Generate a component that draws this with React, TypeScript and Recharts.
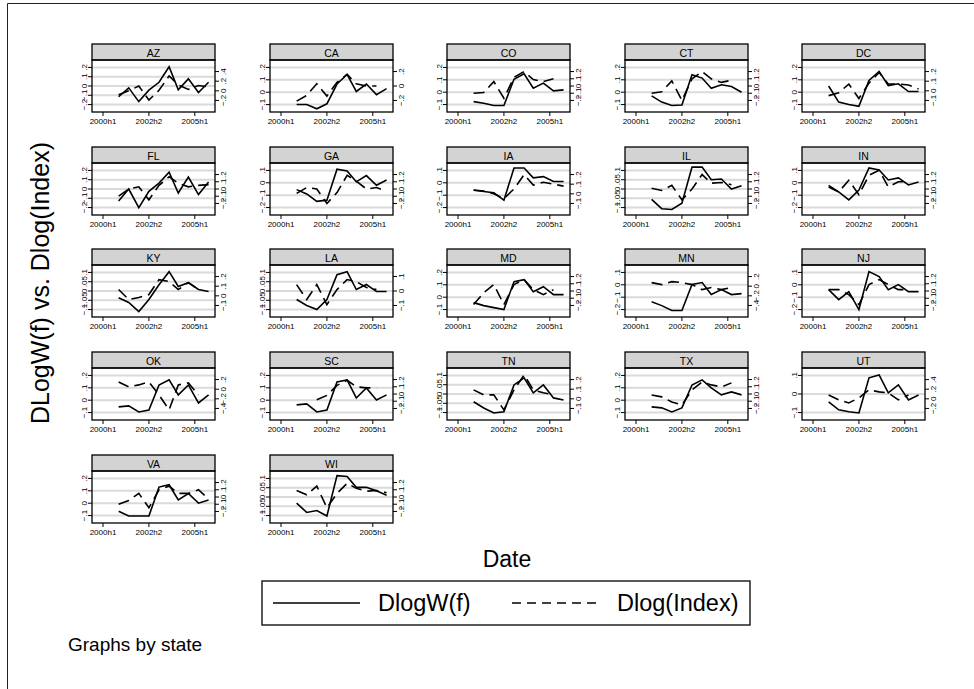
import React from "react";
import { LineChart, Line, XAxis, YAxis, ReferenceLine } from "recharts";

const FONT = "'Liberation Sans', Arial, Helvetica, sans-serif";

// observation dates, in half-years counted from 2000h1
const periods = [1.7, 2.8, 3.9, 5.0, 6.1, 7.2, 8.2, 9.3, 10.4, 11.5];
const dateTicks = [0, 5, 10];
const dateLabels = ["2000h1", "2002h2", "2005h1"];

// tick sets used by the panel axes
const tWide5 = [-0.2, -0.1, 0, 0.1, 0.2];
const tUp = [-0.1, 0, 0.1, 0.2];
const tDown = [-0.2, -0.1, 0, 0.1];
const tFine = [-0.1, -0.05, 0, 0.05, 0.1];
const tSmall = [-0.1, 0, 0.1];
const tHigh = [-0.2, 0, 0.2, 0.4];
const tLow = [-0.4, -0.2, 0, 0.2];
const tPair = [-0.2, 0, 0.2];

// DlogW(f) and Dlog(Index) by state
const azW = [-0.116, -0.02, -0.168, -0.045, 0.04, 0.207, -0.04, 0.077, -0.07, 0.04];
const azI = [-0.08, 0.0, 0.1, -0.19, 0.01, 0.31, 0.12, 0.03, 0.11, 0.08];
const caW = [-0.1, -0.1, -0.134, -0.094, 0.066, 0.143, 0.006, 0.066, -0.02, 0.029];
const caI = [-0.21, -0.13, 0.03, -0.14, 0.05, 0.16, 0.03, 0.0, 0.0, null];
const coW = [-0.076, -0.09, -0.108, -0.108, 0.105, 0.149, 0.032, 0.073, 0.011, 0.019];
const coI = [-0.1, -0.09, 0.06, -0.17, 0.12, 0.2, 0.09, 0.06, 0.1, null];
const ctW = [-0.03, -0.08, -0.108, -0.103, 0.14, 0.114, 0.032, 0.06, 0.046, 0.0];
const ctI = [-0.1, -0.08, 0.07, -0.2, 0.1, 0.2, 0.1, 0.05, 0.08, null];
const dcW = [0.05, -0.08, -0.1, -0.114, 0.095, 0.168, 0.054, 0.068, 0.005, 0.005];
const dcI = [-0.05, -0.02, 0.07, -0.08, 0.08, 0.19, 0.07, 0.07, 0.06, 0.02];
const flW = [-0.13, 0.0, -0.2, -0.025, 0.064, 0.18, -0.043, 0.129, -0.06, 0.075];
const flI = [-0.1, 0.0, 0.03, -0.15, 0.05, 0.17, 0.08, 0.03, 0.05, 0.06];
const gaW = [-0.055, -0.09, -0.15, -0.14, 0.11, 0.096, 0.008, 0.058, -0.02, 0.022];
const gaI = [-0.06, 0.02, 0.0, -0.2, -0.05, 0.19, 0.11, 0.0, 0.02, -0.03];
const iaW = [-0.06, -0.07, -0.08, -0.14, 0.12, 0.12, 0.04, 0.05, 0.01, 0.01];
const iaI = [0.04, 0.03, 0.0, -0.05, 0.05, 0.2, 0.09, 0.12, 0.1, 0.08];
const ilW = [-0.056, -0.106, -0.11, -0.076, 0.118, 0.118, 0.05, 0.054, 0.0, 0.018];
const ilI = [0.01, -0.02, 0.05, -0.15, 0.0, 0.2, 0.08, 0.09, 0.06, null];
const inW = [-0.034, -0.074, -0.138, -0.058, 0.12, 0.104, 0.023, 0.04, -0.017, 0.007];
const inI = [0.05, -0.04, 0.12, -0.08, 0.19, 0.26, 0.03, 0.1, 0.1, null];
const kyW = [-0.036, -0.062, -0.111, -0.046, 0.034, 0.104, 0.024, 0.045, 0.008, -0.003];
const kyI = [0.065, -0.039, -0.018, 0.013, 0.168, 0.148, 0.065, 0.137, 0.065, null];
const laW = [-0.046, -0.078, -0.1, -0.046, 0.088, 0.104, 0.008, 0.035, -0.003, -0.003];
const laI = [0.044, -0.059, 0.044, -0.094, 0.01, 0.079, 0.065, 0.024, 0.01, null];
const mdW = [-0.044, -0.068, -0.084, -0.1, 0.126, 0.142, 0.045, 0.085, 0.021, 0.021];
const mdI = [-0.188, -0.022, 0.089, -0.188, 0.089, 0.158, 0.019, -0.05, 0.019, null];
const mnW = [-0.136, -0.168, -0.208, -0.208, 0.002, 0.018, -0.079, -0.039, -0.079, -0.071];
const mnI = [0.074, 0.033, 0.095, 0.074, 0.033, -0.071, -0.029, -0.071, -0.029, null];
const njW = [-0.039, -0.12, -0.055, -0.2, 0.107, 0.066, -0.039, 0.002, -0.055, -0.055];
const njI = [0.019, 0.019, -0.05, -0.188, 0.089, 0.158, 0.089, 0.019, 0.019, null];
const okW = [-0.054, -0.046, -0.095, -0.079, 0.123, 0.164, 0.043, 0.123, -0.022, 0.043];
const okI = [0.151, 0.047, 0.089, 0.151, -0.119, -0.43, 0.089, 0.13, -0.119, null];
const scW = [-0.038, -0.03, -0.095, -0.079, 0.148, 0.164, 0.018, 0.099, 0.002, 0.043];
const scI = [null, null, -0.08, -0.02, 0.12, 0.19, 0.1, 0.085, 0.085, null];
const tnW = [-0.042, -0.075, -0.102, -0.096, 0.049, 0.087, 0.006, 0.049, -0.021, -0.032];
const tnI = [0.093, 0.041, 0.041, -0.115, 0.093, 0.248, 0.093, 0.062, 0.041, null];
const txW = [-0.054, -0.062, -0.095, -0.062, 0.123, 0.164, 0.099, 0.043, 0.067, 0.043];
const txI = [-0.013, -0.04, -0.11, -0.151, 0.057, 0.167, 0.126, 0.098, 0.154, null];
const utW = [-0.042, -0.085, -0.096, -0.102, 0.087, 0.103, 0.006, 0.049, -0.032, -0.005];
const utI = [0.081, -0.023, -0.085, 0.019, 0.185, 0.144, 0.123, -0.023, 0.081, null];
const vaW = [-0.065, -0.104, -0.104, -0.104, 0.13, 0.149, 0.026, 0.078, 0.0, 0.026];
const vaI = [-0.1, -0.05, 0.05, -0.15, 0.1, 0.15, 0.05, 0.05, 0.1, -0.03];
const wiW = [-0.033, -0.083, -0.073, -0.102, 0.115, 0.11, 0.052, 0.052, 0.033, 0.01];
const wiI = [0.09, 0.03, 0.15, -0.15, 0.05, 0.19, 0.12, 0.08, 0.09, 0.06];

type PanelDef = { name: string; w: (number | null)[]; ix: (number | null)[]; lt: number[]; rt: number[] };

const panels: PanelDef[] = [
  { name: "AZ", w: azW, ix: azI, lt: tWide5, rt: tHigh },
  { name: "CA", w: caW, ix: caI, lt: tUp, rt: tPair },
  { name: "CO", w: coW, ix: coI, lt: tUp, rt: tWide5 },
  { name: "CT", w: ctW, ix: ctI, lt: tUp, rt: tWide5 },
  { name: "DC", w: dcW, ix: dcI, lt: tUp, rt: tUp },
  { name: "FL", w: flW, ix: flI, lt: tWide5, rt: tWide5 },
  { name: "GA", w: gaW, ix: gaI, lt: tDown, rt: tWide5 },
  { name: "IA", w: iaW, ix: iaI, lt: tDown, rt: tUp },
  { name: "IL", w: ilW, ix: ilI, lt: tFine, rt: tWide5 },
  { name: "IN", w: inW, ix: inI, lt: tDown, rt: tWide5 },
  { name: "KY", w: kyW, ix: kyI, lt: tFine, rt: tUp },
  { name: "LA", w: laW, ix: laI, lt: tFine, rt: tSmall },
  { name: "MD", w: mdW, ix: mdI, lt: tUp, rt: tWide5 },
  { name: "MN", w: mnW, ix: mnI, lt: tDown, rt: tLow },
  { name: "NJ", w: njW, ix: njI, lt: tDown, rt: tWide5 },
  { name: "OK", w: okW, ix: okI, lt: tUp, rt: tLow },
  { name: "SC", w: scW, ix: scI, lt: tUp, rt: tWide5 },
  { name: "TN", w: tnW, ix: tnI, lt: tFine, rt: tUp },
  { name: "TX", w: txW, ix: txI, lt: tUp, rt: tWide5 },
  { name: "UT", w: utW, ix: utI, lt: tSmall, rt: tHigh },
  { name: "VA", w: vaW, ix: vaI, lt: tUp, rt: tWide5 },
  { name: "WI", w: wiW, ix: wiI, lt: tFine, rt: tWide5 },
];

const BOX_W = 123;
const HEAD_H = 16;
const PLOT_H = 52;
const AX = 30;
const COL_X0 = 92;
const COL_STEP = 177.5;
const ROW_Y0 = 44;
const ROW_STEP = 102.7;

// Stata-style tick text: ".1", "-.05", "0"
const fmt = (v: number) =>
  v === 0 ? "0" : (v < 0 ? "\u2212" : "") + String(Math.abs(v)).replace(/^0/, "");

const padDomain = (ticks: number[], k: number): [number, number] => {
  const lo = Math.min(...ticks);
  const hi = Math.max(...ticks);
  const r = hi - lo;
  return [lo - k * r, hi + k * r];
};

const LeftTick = (props: any) => {
  const { x, y, payload } = props;
  return (
    <text transform={`translate(${x},${y}) rotate(-90)`} textAnchor="middle" fontSize={8} fontFamily={FONT} fill="#000">
      {fmt(payload.value)}
    </text>
  );
};

const RightTick = (props: any) => {
  const { x, y, payload } = props;
  return (
    <text transform={`translate(${x + 6},${y}) rotate(-90)`} textAnchor="middle" fontSize={8} fontFamily={FONT} fill="#000">
      {fmt(payload.value)}
    </text>
  );
};

function Panel({ p, idx }: { p: PanelDef; idx: number }) {
  const col = idx % 5;
  const row = Math.floor(idx / 5);
  const x0 = COL_X0 + col * COL_STEP;
  const y0 = ROW_Y0 + row * ROW_STEP;
  const data = periods.map((t, k) => ({ t, w: p.w[k], ix: p.ix[k] }));
  const ld = padDomain(p.lt, 0.2);
  const rd = padDomain(p.rt, 0.4);

  return (
    <>
      <div style={{ position: "absolute", left: x0 - AX, top: y0 + HEAD_H }}>
        <LineChart width={BOX_W + 2 * AX} height={PLOT_H + 20} data={data} margin={{ top: 0, right: 0, bottom: 0, left: 0 }}>
          <XAxis
            dataKey="t"
            type="number"
            domain={[-1.2, 12.2]}
            allowDataOverflow
            ticks={dateTicks}
            interval={0}
            tickFormatter={(v: number) => dateLabels[dateTicks.indexOf(v)]}
            axisLine={false}
            tickLine={{ stroke: "#000" }}
            tickSize={4}
            tickMargin={2}
            height={20}
            tick={{ fontSize: 8, fill: "#000", fontFamily: FONT }}
          />
          <YAxis
            yAxisId="l"
            type="number"
            domain={ld}
            allowDataOverflow
            ticks={p.lt}
            interval={0}
            width={AX}
            axisLine={false}
            tickLine={{ stroke: "#000" }}
            tickSize={4}
            tickMargin={1}
            tick={<LeftTick />}
          />
          <YAxis
            yAxisId="r"
            orientation="right"
            type="number"
            domain={rd}
            allowDataOverflow
            ticks={p.rt}
            interval={0}
            width={AX}
            axisLine={false}
            tickLine={{ stroke: "#000" }}
            tickSize={4}
            tickMargin={1}
            tick={<RightTick />}
          />
          {p.lt.map((v) => (
            <ReferenceLine key={v} yAxisId="l" y={v} stroke="#dadada" strokeWidth={2} />
          ))}
          <Line yAxisId="l" dataKey="w" stroke="#000" strokeWidth={1.6} dot={false} isAnimationActive={false} />
          <Line yAxisId="r" dataKey="ix" stroke="#000" strokeWidth={1.6} strokeDasharray="11 6" dot={false} isAnimationActive={false} />
        </LineChart>
      </div>
      <svg
        width={BOX_W + 2}
        height={HEAD_H + PLOT_H + 2}
        style={{ position: "absolute", left: x0 - 1, top: y0 - 1, pointerEvents: "none", overflow: "visible" }}
      >
        <rect x={1} y={1} width={BOX_W} height={HEAD_H} fill="#d3d3d3" stroke="#000" strokeWidth={1.3} />
        <rect x={1} y={1 + HEAD_H} width={BOX_W} height={PLOT_H} fill="none" stroke="#000" strokeWidth={1.3} />
        <text x={1 + BOX_W / 2} y={13.5} textAnchor="middle" fontSize={10.5} fontFamily={FONT} fill="#000">
          {p.name}
        </text>
      </svg>
    </>
  );
}

export default function App() {
  return (
    <div style={{ position: "absolute", left: 0, top: 0, width: 974, height: 689, overflow: "hidden", background: "#fff" }}>
      <svg width={974} height={689} style={{ position: "absolute", left: 0, top: 0 }}>
        <path d="M7.5 700 L7.5 3.5 L990 3.5" fill="none" stroke="#222" strokeWidth={1} />
        <text transform="translate(49,283) rotate(-90)" textAnchor="middle" fontSize={25} fontFamily={FONT} fill="#000">
          DLogW(f) vs. Dlog(Index)
        </text>
        <text x={507} y={567} textAnchor="middle" fontSize={23} fontFamily={FONT} fill="#000">
          Date
        </text>
        <rect x={262} y={581} width={488} height={44} fill="none" stroke="#000" strokeWidth={1.3} />
        <line x1={273} y1={603} x2={360} y2={603} stroke="#000" strokeWidth={1.6} />
        <text x={378} y={611} fontSize={23.5} fontFamily={FONT} fill="#000">
          DlogW(f)
        </text>
        <line x1={512} y1={603} x2={602} y2={603} stroke="#000" strokeWidth={1.6} strokeDasharray="9 6" />
        <text x={617} y={611} fontSize={23.5} fontFamily={FONT} fill="#000">
          Dlog(Index)
        </text>
        <text x={68} y={651} fontSize={19} fontFamily={FONT} fill="#000">
          Graphs by state
        </text>
      </svg>
      {panels.map((p, i) => (
        <Panel key={p.name} p={p} idx={i} />
      ))}
    </div>
  );
}
